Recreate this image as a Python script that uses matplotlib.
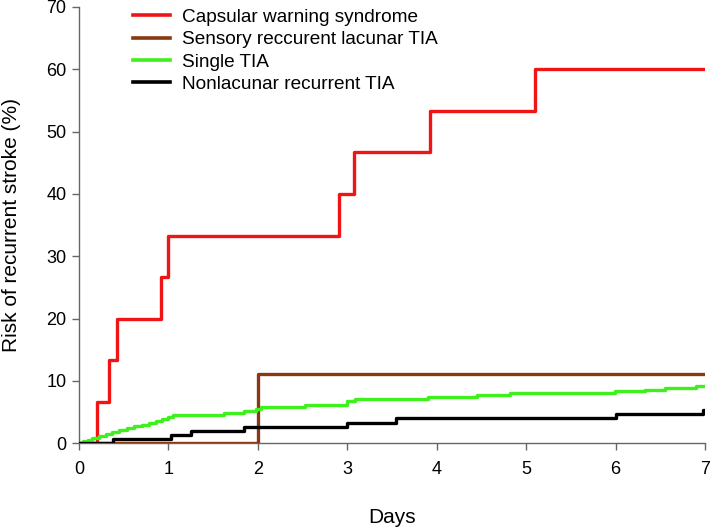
import matplotlib
matplotlib.use("Agg")
import matplotlib.pyplot as plt

plt.rcParams['font.family'] = ['Liberation Sans', 'DejaVu Sans']

# Step data (time in days, cumulative risk %)
cws_t = [0, 0.20, 0.33, 0.42, 0.92, 1.00, 2.91, 3.08, 3.93, 5.10, 7.0]
cws_v = [0, 6.67, 13.33, 20.0, 26.67, 33.33, 40.0, 46.67, 53.33, 60.0, 60.0]

sens_t = [0, 2.0, 7.0]
sens_v = [0, 11.1, 11.1]

single_t = [0, 0.05, 0.10, 0.15, 0.22, 0.30, 0.37, 0.45, 0.54, 0.62, 0.70, 0.78,
            0.86, 0.93, 0.99, 1.05, 1.20, 1.62, 1.84, 1.98, 2.03, 2.53, 3.00,
            3.09, 3.90, 4.45, 4.82, 5.99, 6.33, 6.55, 6.90, 7.0]
single_v = [0, 0.3, 0.6, 0.9, 1.2, 1.5, 1.8, 2.1, 2.4, 2.7, 3.0, 3.3,
            3.6, 3.9, 4.2, 4.5, 4.6, 4.9, 5.2, 5.5, 5.8, 6.2, 6.8,
            7.1, 7.5, 7.8, 8.1, 8.4, 8.6, 8.9, 9.2, 9.2]

nonlac_t = [0, 0.38, 1.03, 1.25, 1.84, 3.00, 3.54, 6.00, 6.98, 7.0]
nonlac_v = [0, 0.67, 1.33, 2.0, 2.67, 3.33, 4.0, 4.67, 5.33, 5.33]

labels = ["Capsular warning syndrome", "Sensory reccurent lacunar TIA",
          "Single TIA", "Nonlacunar recurrent TIA"]
colors = ["#f01414", "#8a3812", "#3ef01c", "#000000"]

xticks = list(range(0, 8))
yticks = list(range(0, 80, 10))

fig = plt.figure(figsize=(7.10, 5.29), dpi=100)
ax = fig.add_axes([0.1113, 0.162, 0.8817, 0.825])

series = [(cws_t, cws_v), (sens_t, sens_v), (single_t, single_v), (nonlac_t, nonlac_v)]
for (t, v), lab, c in zip(series, labels, colors):
    ax.step(t, v, where='post', color=c, lw=2.4, label=lab, zorder=3)

ax.set_xlim(0, 7)
ax.set_ylim(0, 70)
ax.set_xticks(xticks)
ax.set_yticks(yticks)
for s in ['top', 'right']:
    ax.spines[s].set_visible(False)
for s in ['left', 'bottom']:
    ax.spines[s].set_color('#666666')
    ax.spines[s].set_linewidth(1.0)
ax.tick_params(axis='both', colors='#666666', labelcolor='black', labelsize=13,
               length=5, width=1.0, direction='out')
ax.tick_params(axis='x', pad=8)
ax.tick_params(axis='y', pad=4)
ax.set_xlabel("Days", fontsize=15, labelpad=21)
ax.set_ylabel("Risk of recurrent stroke (%)", fontsize=15, labelpad=18)

leg = fig.legend(*ax.get_legend_handles_labels(), loc='upper left',
                 bbox_to_anchor=(0.187, 0.984), frameon=False,
                 fontsize=13.7, handlelength=1.95, handletextpad=0.63,
                 labelspacing=0.27, borderpad=0, borderaxespad=0)
for line in leg.get_lines():
    line.set_linewidth(2.6)

fig.savefig("out.png", dpi=100)
